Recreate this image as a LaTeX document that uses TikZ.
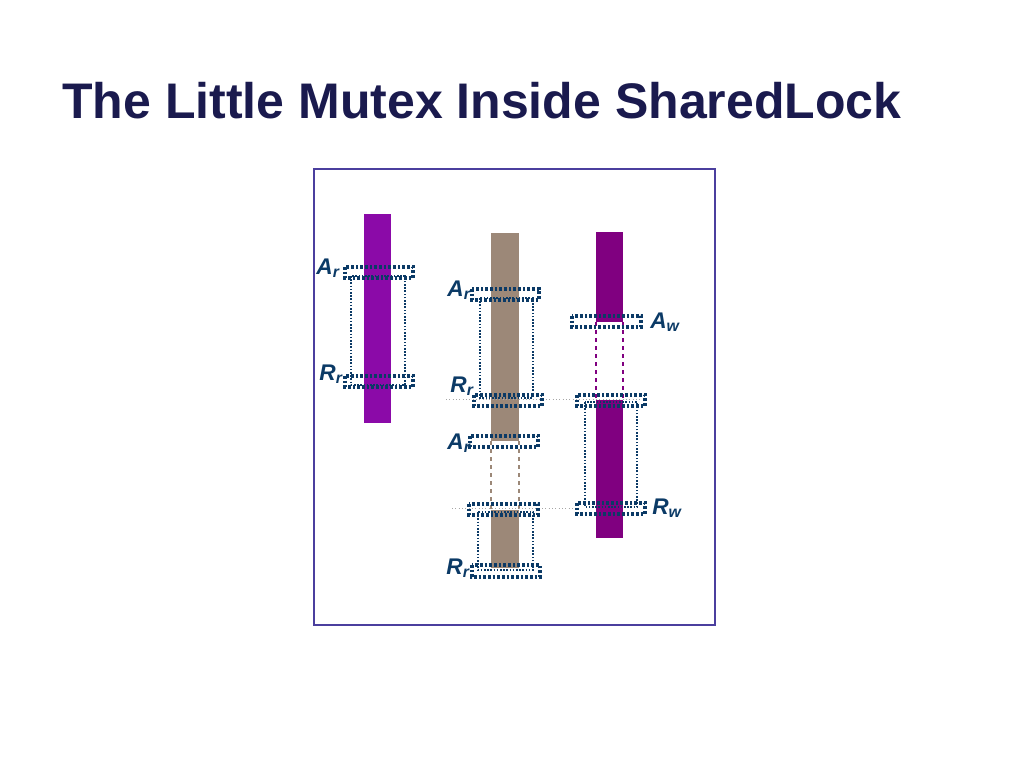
\documentclass[tikz,border=0pt]{standalone}
\usepackage{fontspec}
\setmainfont{Liberation Sans}
\begin{document}
\begin{tikzpicture}[x=0.75pt,y=-0.75pt,
  bx/.style={draw=boxc,line width=3pt,dash pattern=on 2pt off 1.5pt},
  tall/.style={draw=boxc,line width=1.2pt,dash pattern=on 1.2pt off 1.2pt},
  lbl/.style={text=boxc,font=\fontsize{17}{19}\selectfont\bfseries\itshape,inner sep=0pt},
  guide/.style={draw=gray!70,line width=0.5pt,dotted}]
\definecolor{boxc}{HTML}{0B3A66}
\definecolor{titlec}{HTML}{1A1A4E}
\definecolor{framec}{HTML}{4B3F9E}
\definecolor{barA}{HTML}{8B0AA8}
\definecolor{barB}{HTML}{9C8878}
\definecolor{barC}{HTML}{800080}
\useasboundingbox (0,0) rectangle (1024,768);
\node[anchor=base west,text=titlec,font=\fontsize{37.5}{42}\selectfont\bfseries,inner sep=0pt] (title) at (62,118) {The Little Mutex Inside SharedLock};
\draw[framec,line width=0.8pt] (314,169) rectangle (715,625);
% bars
\fill[barA] (364,214) rectangle (391,423);
\fill[barB] (491,233) rectangle (519,441);
\fill[barB] (491,510) rectangle (519,568);
\draw[barB,dashed,line width=1pt] (491,441) -- (491,510) (519,441) -- (519,510);
\fill[barC] (596,232) rectangle (623,322);
\fill[barC] (596,400) rectangle (623,538);
\draw[barC,dashed,line width=1pt] (596,322) -- (596,400) (623,322) -- (623,400);
% guides
\draw[guide] (446,399) -- (645,399);
\draw[guide] (452,508) -- (577,508);
% column 1
\draw[tall] (351,276) rectangle (405,385);
\draw[bx] (345,267) rectangle (413,278);
\draw[bx] (345,376) rectangle (413,387);
% column 2
\draw[tall] (480,298) rectangle (533,398);
\draw[bx] (472,289) rectangle (539,300);
\draw[bx] (474,395) rectangle (542,406);
\draw[bx] (470,436) rectangle (538,447);
\draw[tall] (478,512) rectangle (533,570);
\draw[bx] (469,504) rectangle (538,515);
\draw[bx] (472,565) rectangle (540,577);
% column 3
\draw[bx] (572,316) rectangle (641,327);
\draw[tall] (585,402) rectangle (637,507);
\draw[bx] (577,395) rectangle (645,406);
\draw[bx] (577,503) rectangle (645,514);
% labels
\node[lbl] (l1) at (328,268) {A\textsubscript{r}};
\node[lbl] (l2) at (331,374) {R\textsubscript{r}};
\node[lbl] (l3) at (459,290) {A\textsubscript{r}};
\node[lbl] (l4) at (462,386) {R\textsubscript{r}};
\node[lbl] (l5) at (459,443) {A\textsubscript{r}};
\node[lbl] (l6) at (458,568) {R\textsubscript{r}};
\node[lbl] (l7) at (665,322) {A\textsubscript{w}};
\node[lbl] (l8) at (667,508) {R\textsubscript{w}};
\end{tikzpicture}
\end{document}
